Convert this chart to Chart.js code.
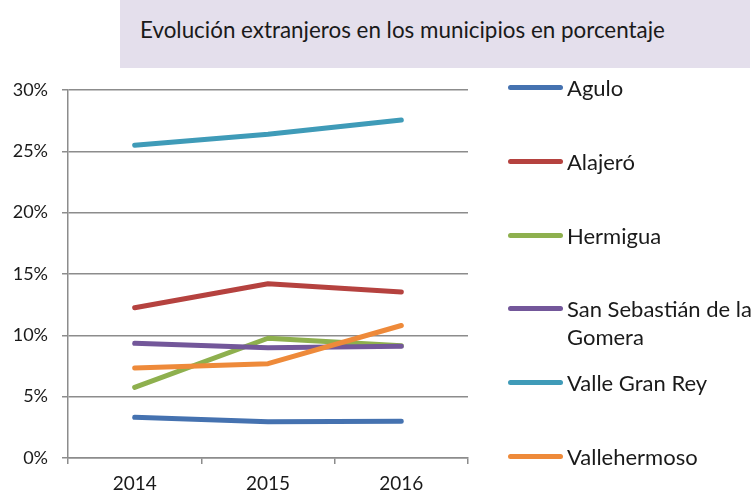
<!DOCTYPE html>
<html><head><meta charset="utf-8">
<script src="https://cdn.jsdelivr.net/npm/chart.js@4"></script>
<style>
html,body{margin:0;padding:0;background:#fff;}
#wrap{position:relative;width:755px;height:493px;overflow:hidden;font-family:Lato,'Open Sans',sans-serif;color:#1a1a1a;}
#titlebox{position:absolute;left:120px;top:0;width:630px;height:68px;background:#E4DFEC;}
#title{position:absolute;left:140px;top:17px;font-size:22.4px;line-height:26px;white-space:nowrap;}
#c{position:absolute;left:0;top:0;}
.item{position:absolute;left:508px;width:247px;font-size:22px;line-height:28px;}
.sw{position:absolute;left:0;top:11px;width:55px;height:5px;border-radius:3px;}
.lb{position:absolute;left:59px;top:0;width:190px;}
</style></head>
<body>
<div id="wrap">
  <div id="titlebox"></div>
  <div id="title">Evolución extranjeros en los municipios en porcentaje</div>
  <canvas id="c" width="755" height="493"></canvas>
  <div id="legend"></div>
</div>
<script>
const years = ['2014', '2015', '2016'];
const seriesNames = ['Agulo', 'Alajeró', 'Hermigua', 'San Sebastián de la Gomera', 'Valle Gran Rey', 'Vallehermoso'];
const agulo        = [3.32, 2.96, 2.99];
const alajero      = [12.25, 14.2, 13.53];
const hermigua     = [5.76, 9.76, 9.15];
const sanSebastian = [9.35, 8.99, 9.1];
const valleGranRey = [25.5, 26.4, 27.55];
const vallehermoso = [7.33, 7.69, 10.8];
const yTicks = [0, 5, 10, 15, 20, 25, 30];

const seriesValues = [agulo, alajero, hermigua, sanSebastian, valleGranRey, vallehermoso];
const colors = ['#4572B0', '#B5423F', '#8EB04E', '#73579A', '#3F9BB8', '#EE8A3A'];
const gridColor = '#8C8C8C';

const datasets = seriesNames.map((n, i) => ({
  label: n,
  data: seriesValues[i],
  borderColor: colors[i],
  backgroundColor: colors[i],
  borderWidth: 5,
  pointRadius: 0,
  tension: 0,
  borderCapStyle: 'round',
  borderJoinStyle: 'round',
  order: seriesNames.length - i
}));

new Chart(document.getElementById('c'), {
  type: 'line',
  data: {labels: years, datasets},
  options: {
    responsive: false,
    animation: false,
    events: [],
    layout: {padding: {left: 0, right: 287, top: 90, bottom: 0}},
    plugins: {legend: {display: false}, tooltip: {enabled: false}, title: {display: false}},
    scales: {
      x: {
        type: 'category',
        offset: true,
        grid: {offset: true, drawOnChartArea: false, drawTicks: true, tickLength: 6, color: gridColor, lineWidth: 1.5},
        border: {display: true, color: gridColor, width: 1.5},
        ticks: {color: '#1a1a1a', font: {family: 'Lato', size: 19}, padding: 8, maxRotation: 0},
        afterFit: s => { s.height = 35; }
      },
      y: {
        min: 0, max: 30,
        afterBuildTicks: s => { s.ticks = yTicks.map(v => ({value: v})); },
        grid: {color: gridColor, lineWidth: 1.5, drawTicks: true, tickLength: 6},
        border: {display: true, color: gridColor, width: 1.5},
        ticks: {color: '#1a1a1a', font: {family: 'Lato', size: 18}, padding: 14, callback: v => v + '%'},
        afterFit: s => { s.width = 68; }
      }
    }
  }
});

const lg = document.getElementById('legend');
seriesNames.forEach((n, i) => {
  const it = document.createElement('div');
  it.className = 'item';
  it.style.top = (88 + i * 73.8 - 14) + 'px';
  it.innerHTML = '<div class="sw" style="background:' + colors[i] + '"></div><div class="lb"></div>';
  it.querySelector('.lb').textContent = n;
  lg.appendChild(it);
});
</script>
</body></html>
